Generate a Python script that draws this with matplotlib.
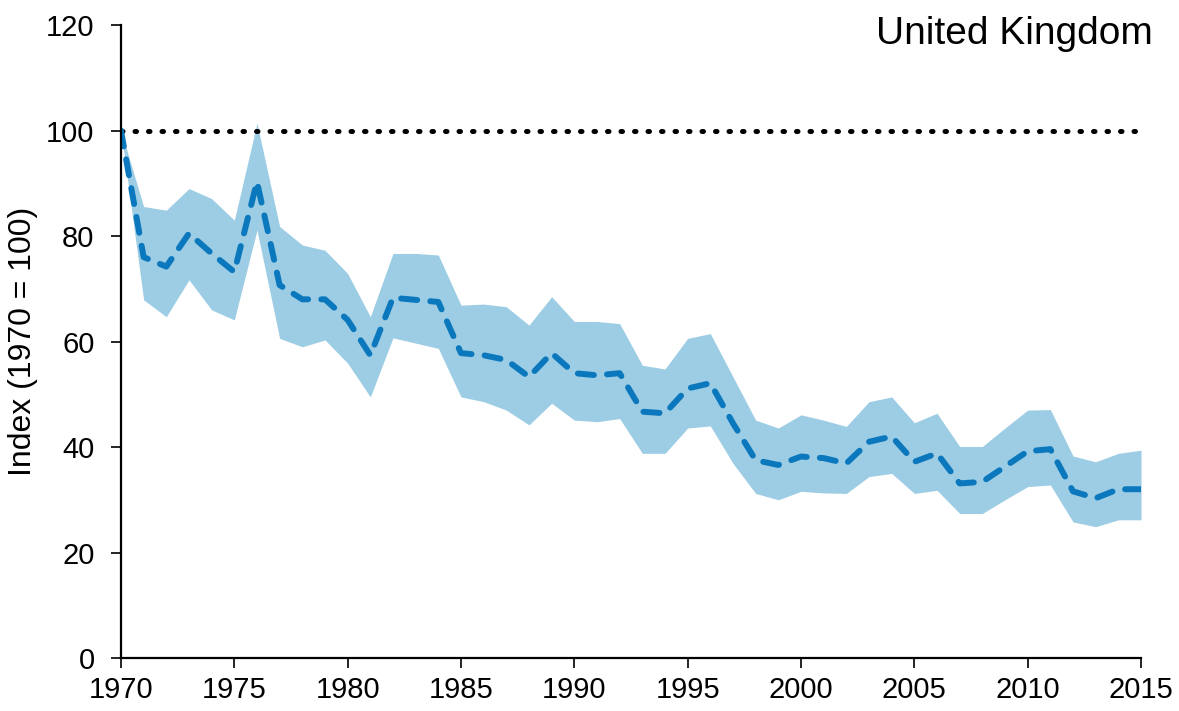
import numpy as np
import matplotlib
matplotlib.use('Agg')
import matplotlib.pyplot as plt

plt.rcParams['font.family'] = ['Liberation Sans', 'DejaVu Sans']

# 数据
years = np.arange(1970, 2016)
index = [100, 76, 74.2, 80.5, 76.7, 73.2, 90.3, 70.7, 68, 68,
         64.1, 57.4, 68.3, 67.9, 67.5, 57.8, 57.4, 56.5, 53.3, 57.8,
         54, 53.6, 54, 46.7, 46.4, 51.1, 52.1, 44.5, 37.5, 36.6,
         38.2, 37.9, 36.9, 41, 42, 37.2, 38.8, 33.1, 33.4, 36.3,
         39.2, 39.6, 31.6, 30.3, 32, 32]
upper = [100, 85.6, 84.9, 89, 87.1, 83, 101.4, 81.8, 78.3, 77.3,
         72.9, 64.7, 76.7, 76.7, 76.4, 66.9, 67.1, 66.6, 63.1, 68.5,
         63.8, 63.8, 63.4, 55.5, 54.8, 60.6, 61.5, 53.3, 45.1, 43.6,
         46.1, 45.1, 43.9, 48.6, 49.5, 44.6, 46.4, 40.1, 40.1, 43.6,
         47, 47.1, 38.3, 37.2, 38.8, 39.4]
lower = [100, 67.9, 64.7, 71.7, 66, 64.1, 81.1, 60.6, 59, 60.3,
         55.9, 49.5, 60.7, 59.7, 58.7, 49.5, 48.6, 47, 44.2, 48.3,
         45.1, 44.8, 45.4, 38.8, 38.8, 43.6, 44, 36.9, 31.2, 30,
         31.6, 31.3, 31.2, 34.4, 35, 31.2, 31.8, 27.4, 27.4, 30,
         32.5, 32.8, 25.8, 24.9, 26.2, 26.2]
baseline = 100
title = 'United Kingdom'
ylabel = 'Index (1970 = 100)'

fig = plt.figure(figsize=(11.79, 7.11), dpi=100)
ax = fig.add_axes([0.1026, 0.0745, 0.8652, 0.8903])

# 置信区间
ax.fill_between(years, lower, upper, color='#9dcde4', linewidth=0)
# 基准线
ax.plot([years[0], years[-1]], [baseline, baseline], color='black',
        linewidth=3.6, linestyle=(0, (0.3, 2.4)), dash_capstyle='round')
# 指数
ax.plot(years, index, color='#0b78bd', linewidth=4.3,
        linestyle=(0, (2.7, 2.2)), dash_capstyle='round')

ax.set_xlim(1970, 2015)
ax.set_ylim(0, 120)
ax.set_xticks(np.arange(1970, 2016, 5))
ax.set_yticks(np.arange(0, 121, 20))

for s in ['top', 'right']:
    ax.spines[s].set_visible(False)
for s in ['left', 'bottom']:
    ax.spines[s].set_linewidth(1.6)
ax.tick_params(axis='both', direction='out', length=7, width=1.2,
               labelsize=21, colors='black')
ax.tick_params(axis='y', pad=12)
ax.tick_params(axis='x', pad=6)

ax.set_ylabel(ylabel, fontsize=23, labelpad=6)
fig.text(0.978, 0.978, title, ha='right', va='top', fontsize=28)

fig.savefig('out.png', dpi=100)
